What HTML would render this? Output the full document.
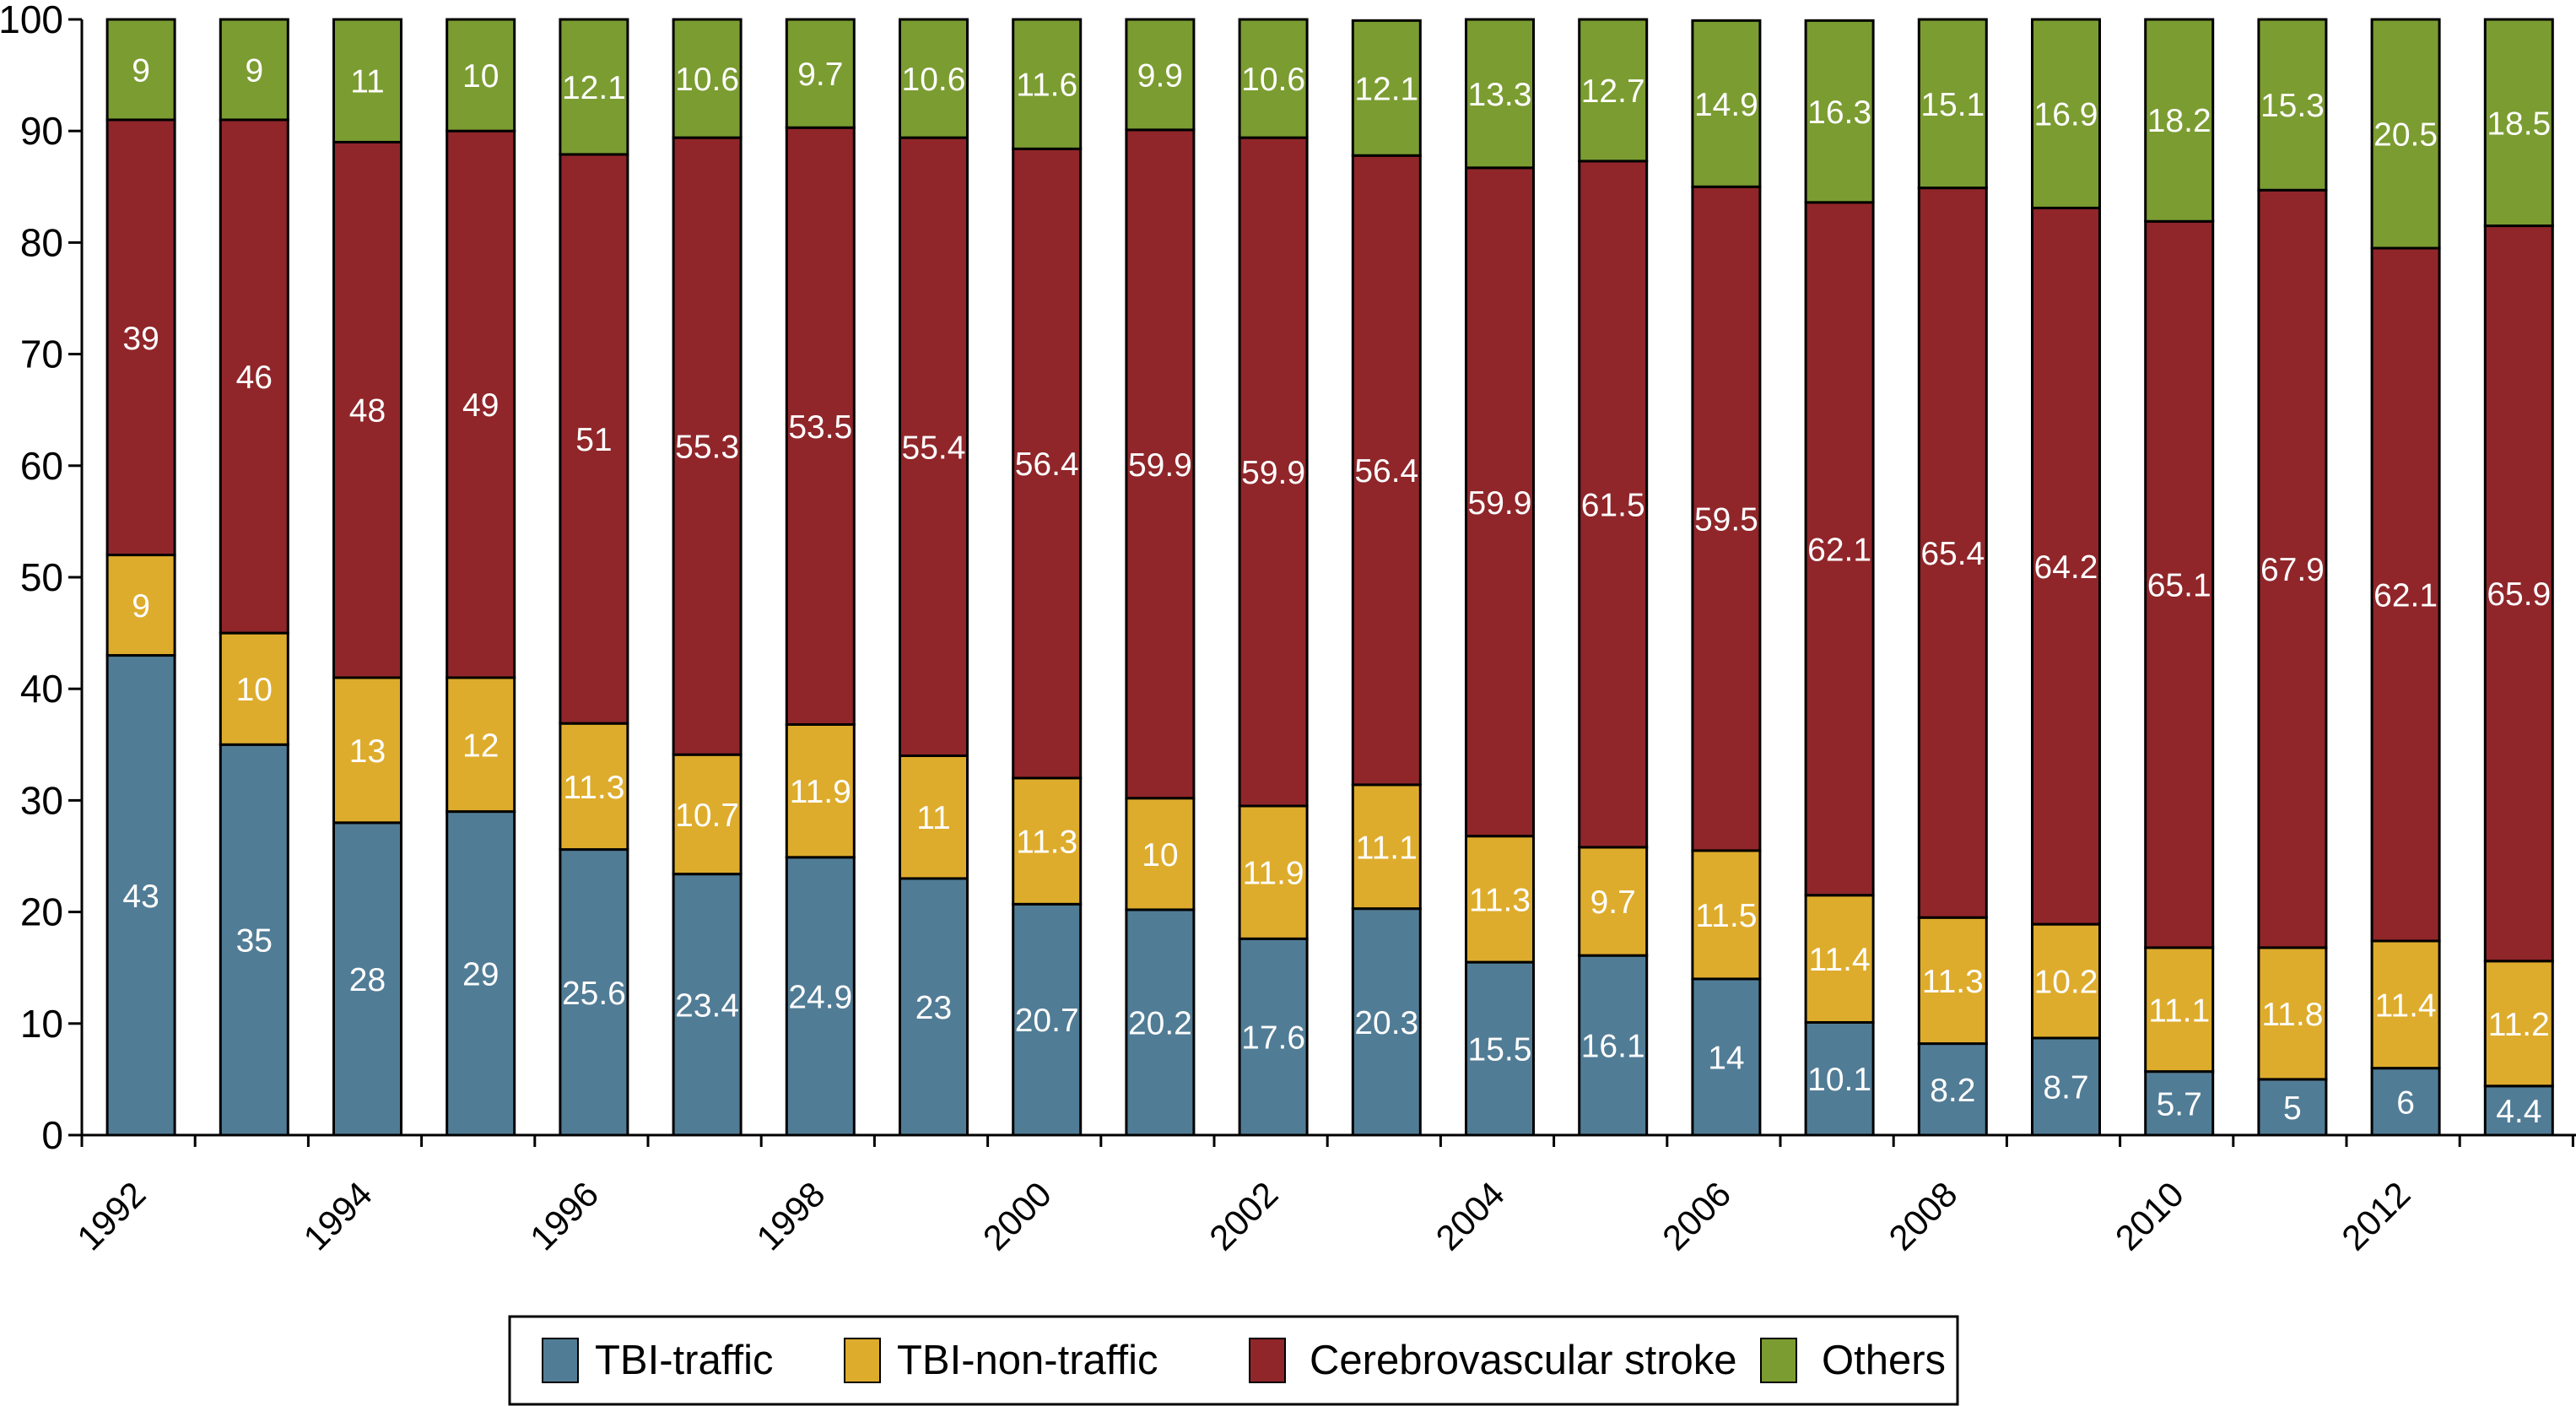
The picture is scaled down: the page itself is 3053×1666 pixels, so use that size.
<!DOCTYPE html>
<html><head><meta charset="utf-8"><style>
html,body{margin:0;padding:0;background:#fff;}
svg{display:block;font-family:"Liberation Sans",sans-serif;}
</style></head><body>
<svg id="chart" width="3053" height="1666">
<g id="plot"></g>
<g id="legend">
<rect x="604" y="1560" width="1716" height="104" fill="#fff" stroke="#000" stroke-width="3"/>
<rect x="643" y="1586" width="42" height="52" fill="#517c96" stroke="#000" stroke-width="2"/>
<text x="705" y="1628" font-size="49">TBI-traffic</text>
<rect x="1001" y="1586" width="42" height="52" fill="#deac2c" stroke="#000" stroke-width="2"/>
<text x="1063" y="1628" font-size="49">TBI-non-traffic</text>
<rect x="1481" y="1586" width="42" height="52" fill="#90262a" stroke="#000" stroke-width="2"/>
<text x="1552" y="1628" font-size="49">Cerebrovascular stroke</text>
<rect x="2087" y="1586" width="42" height="52" fill="#7b9c31" stroke="#000" stroke-width="2"/>
<text x="2159" y="1628" font-size="49">Others</text>
</g>
</svg>
<script>
const years=[1992,1993,1994,1995,1996,1997,1998,1999,2000,2001,2002,2003,2004,2005,2006,2007,2008,2009,2010,2011,2012,2013];
const tbiTraffic=[43,35,28,29,25.6,23.4,24.9,23,20.7,20.2,17.6,20.3,15.5,16.1,14,10.1,8.2,8.7,5.7,5,6,4.4];
const tbiNonTraffic=[9,10,13,12,11.3,10.7,11.9,11,11.3,10,11.9,11.1,11.3,9.7,11.5,11.4,11.3,10.2,11.1,11.8,11.4,11.2];
const stroke=[39,46,48,49,51,55.3,53.5,55.4,56.4,59.9,59.9,56.4,59.9,61.5,59.5,62.1,65.4,64.2,65.1,67.9,62.1,65.9];
const others=[9,9,11,10,12.1,10.6,9.7,10.6,11.6,9.9,10.6,12.1,13.3,12.7,14.9,16.3,15.1,16.9,18.2,15.3,20.5,18.5];
const yTicks=[0,10,20,30,40,50,60,70,80,90,100];

const NS="http://www.w3.org/2000/svg";
const g=document.getElementById('plot');
const x0=97, slot=134.2, barW=80, yTop=23, yBot=1345;
const yS=v=>yBot-(Math.min(v,100)/100)*(yBot-yTop);
const xS=i=>x0+slot*i+slot/2+3;
function mk(t,a){const e=document.createElementNS(NS,t);for(const k in a)e.setAttribute(k,a[k]);g.appendChild(e);return e;}

const series=[
 {vals:tbiTraffic,color:'#517c96',name:'tbi-traffic'},
 {vals:tbiNonTraffic,color:'#deac2c',name:'tbi-non-traffic'},
 {vals:stroke,color:'#90262a',name:'stroke'},
 {vals:others,color:'#7b9c31',name:'others'}];

years.forEach((yr,i)=>{
  let base=0;
  series.forEach(s=>{
    const v=s.vals[i];
    const r=mk('rect',{x:xS(i)-barW/2,y:yS(base+v),width:barW,height:yS(base)-yS(base+v),fill:s.color,stroke:'#000','stroke-width':3});
    
    
    const t=mk('text',{x:xS(i),y:yS(base+v/2)+14,'font-size':39,fill:'#fff','text-anchor':'middle'});
    t.textContent=String(v);
    
    
    base+=v;
  });
});

const ya=mk('line',{x1:x0,y1:yTop,x2:x0,y2:yBot+1.5,stroke:'#000','stroke-width':3});


const xa=mk('line',{x1:x0-16,y1:yBot,x2:3053,y2:yBot,stroke:'#000','stroke-width':3});


yTicks.forEach(v=>{
  const l=mk('line',{x1:x0-16,y1:yS(v),x2:x0,y2:yS(v),stroke:'#000','stroke-width':3});
  
  
  const t=mk('text',{x:x0-22,y:yS(v)+16,'font-size':46,'text-anchor':'end'});
  t.textContent=String(v);
  
  
});
for(let i=0;i<=years.length;i++){
  const tx=x0+slot*i;
  const l=mk('line',{x1:tx,y1:yBot,x2:tx,y2:yBot+14,stroke:'#000','stroke-width':3});
  
  
}
years.forEach((yr,i)=>{
  if(i%2) return;
  const ax=xS(i)+8, ay=1418;
  const t=mk('text',{x:ax,y:ay,'font-size':42,'text-anchor':'end',transform:`rotate(-45 ${ax} ${ay})`});
  t.textContent=String(yr);
  
  
});
</script>
</body></html>
